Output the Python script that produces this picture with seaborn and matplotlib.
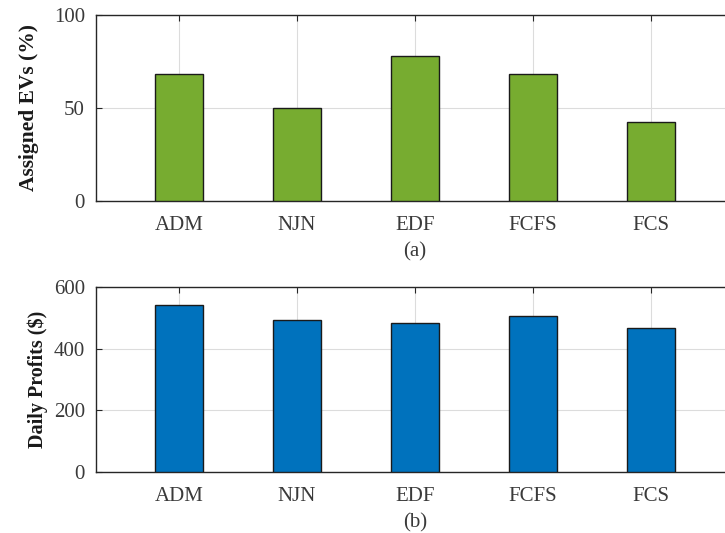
import matplotlib
matplotlib.use("Agg")
import matplotlib.pyplot as plt
import seaborn as sns
import pandas as pd

methods = ["ADM", "NJN", "EDF", "FCFS", "FCS"]
assigned_evs = [68.5, 50.0, 78.0, 68.4, 42.6]
daily_profits = [543, 494, 485, 507, 467]

sns.set_theme(style="white")
plt.rcParams["font.family"] = ["Liberation Serif", "DejaVu Serif"]

fig = plt.figure(figsize=(7.25, 5.33), dpi=100)
ax_a = fig.add_axes([0.1324, 0.6229, 0.88, 0.349])
ax_b = fig.add_axes([0.1324, 0.1144, 0.88, 0.3465])

panels = [
    (ax_a, assigned_evs, "#77AC30", "Assigned EVs (%)", [0, 50, 100], (0, 100), "(a)", 15.5, -0.089),
    (ax_b, daily_profits, "#0072BD", "Daily Profits ($)", [0, 200, 400, 600], (0, 600), "(b)", 14.5, -0.076),
]

for ax, vals, col, ylab, yt, ylim, tag, yfs, ylx in panels:
    df = pd.DataFrame({"method": methods, "value": vals})
    sns.barplot(data=df, x="method", y="value", color=col, saturation=1,
                width=0.4, edgecolor="#1a1a1a", linewidth=1.0, ax=ax, zorder=3)
    ax.set_xlim(-0.703, 4.703)
    ax.set_ylim(*ylim)
    ax.set_yticks(yt)
    ax.grid(True, color="#dcdcdc", linewidth=0.8, zorder=0)
    ax.set_axisbelow(True)
    for s in ax.spines.values():
        s.set_color("#262626")
        s.set_linewidth(1.0)
    ax.tick_params(axis="both", direction="in", length=4, width=0.8,
                   color="#262626", labelsize=15, labelcolor="#3a3a3a",
                   top=True, bottom=True, left=True, right=False)
    ax.tick_params(axis="x", pad=11)
    ax.tick_params(axis="y", pad=8)
    ax.set_ylabel(ylab, fontsize=yfs, fontweight="bold", color="#1a1a1a")
    ax.yaxis.set_label_coords(ylx, 0.5)
    ax.set_xlabel(tag, fontsize=15, color="#3a3a3a", labelpad=5)

fig.savefig("out.png", dpi=100)
